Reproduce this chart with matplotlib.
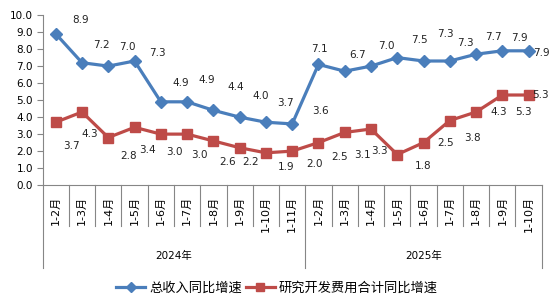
import matplotlib
matplotlib.use("Agg")
import matplotlib.pyplot as plt
from matplotlib.lines import Line2D
import matplotlib.transforms as mtransforms

plt.rcParams["font.family"] = ["DejaVu Sans", "Noto Sans CJK SC"]

# ---------------------------
# Data
# ---------------------------
months_2024 = ["1-2月", "1-3月", "1-4月", "1-5月", "1-6月", "1-7月", "1-8月", "1-9月", "1-10月", "1-11月"]
months_2025 = ["1-2月", "1-3月", "1-4月", "1-5月", "1-6月", "1-7月", "1-8月", "1-9月", "1-10月"]
years = ["2024年", "2025年"]

revenue_growth = [8.9, 7.2, 7.0, 7.3, 4.9, 4.9, 4.4, 4.0, 3.7, 3.6,
                  7.1, 6.7, 7.0, 7.5, 7.3, 7.3, 7.7, 7.9, 7.9]
rd_growth = [3.7, 4.3, 2.8, 3.4, 3.0, 3.0, 2.6, 2.2, 1.9, 2.0,
             2.5, 3.1, 3.3, 1.8, 2.5, 3.8, 4.3, 5.3, 5.3]

series_names = ["总收入同比增速", "研究开发费用合计同比增速"]

# label offsets in pixels (dx, dy)
rev_offsets = [(25, 14), (19, 18), (19, 19), (23, 8), (20, 19), (20, 22), (22, 23), (21, 21),
               (20, 19), (28, 13), (1, 15), (13, 16), (15, 20), (22, 18), (22, 27), (16, 18),
               (17, 17), (17, 13), (13, -2)]
rd_offsets = [(16, -24), (8, -22), (20, -18), (13, -23), (14, -18), (12, -21), (14, -21), (11, -14),
              (20, -14), (22, -13), (21, -14), (18, -23), (8, -22), (26, -11), (22, 0), (23, -17),
              (23, 0), (21, -17), (12, 0)]

BLUE = "#4A7EBB"
RED = "#BE4B48"
GREY = "#868686"

labels = months_2024 + months_2025
x = list(range(len(labels)))

# ---------------------------
# Plot
# ---------------------------
fig = plt.figure(figsize=(5.54, 3.02), dpi=100)
ax = fig.add_axes([0.0769, 0.387, 0.901, 0.563])

ax.plot(x, revenue_growth, color=BLUE, lw=2.3, marker="D", ms=6.5,
        markerfacecolor=BLUE, markeredgecolor=BLUE, zorder=3)
ax.plot(x, rd_growth, color=RED, lw=2.3, marker="s", ms=7.5,
        markerfacecolor=RED, markeredgecolor=RED, zorder=3)

for xi, v, off in zip(x, revenue_growth, rev_offsets):
    ax.annotate(f"{v:.1f}", (xi, v), xytext=off, textcoords="offset pixels",
                ha="center", va="center", fontsize=7.5, color="#222222")
for xi, v, off in zip(x, rd_growth, rd_offsets):
    ax.annotate(f"{v:.1f}", (xi, v), xytext=off, textcoords="offset pixels",
                ha="center", va="center", fontsize=7.5, color="#222222")

ax.set_xlim(-0.5, len(x) - 0.5)
ax.set_ylim(0, 10)
ax.set_yticks([i for i in range(11)])
ax.set_yticklabels([f"{i:.1f}" for i in range(11)], fontsize=7.5)
ax.tick_params(axis="y", length=4, color=GREY, width=0.8, pad=3)

ax.set_xticks(x)
ax.set_xticklabels(labels, rotation=90, fontsize=8)
ax.tick_params(axis="x", length=0, pad=8)

for s in ["top", "right"]:
    ax.spines[s].set_visible(False)
for s in ["left", "bottom"]:
    ax.spines[s].set_color(GREY)
    ax.spines[s].set_linewidth(0.8)

# category separators
trans = mtransforms.blended_transform_factory(ax.transData, ax.transAxes)
n24 = len(months_2024)
for b in range(len(x) + 1):
    xb = b - 0.5
    if b in (0, n24, len(x)):
        y_end = -0.49
    else:
        y_end = -0.24
    ax.plot([xb, xb], [0, y_end], color=GREY, lw=0.8, transform=trans, clip_on=False)

# year labels
ax.text((n24 - 1) / 2, -0.418, years[0], transform=trans, ha="center", va="center", fontsize=7.5)
ax.text(n24 + (len(months_2025) - 1) / 2, -0.418, years[1], transform=trans,
        ha="center", va="center", fontsize=7.5)

# legend
handles = [
    Line2D([], [], color=BLUE, lw=2.3, marker="D", ms=5),
    Line2D([], [], color=RED, lw=2.3, marker="s", ms=6),
]
fig.legend(handles, series_names, loc="center", bbox_to_anchor=(0.5, 1 - 288 / 302),
           ncol=2, frameon=False, fontsize=9.5, handlelength=2.2, handletextpad=0.3,
           columnspacing=0.3)

fig.savefig("out.png", dpi=100)
